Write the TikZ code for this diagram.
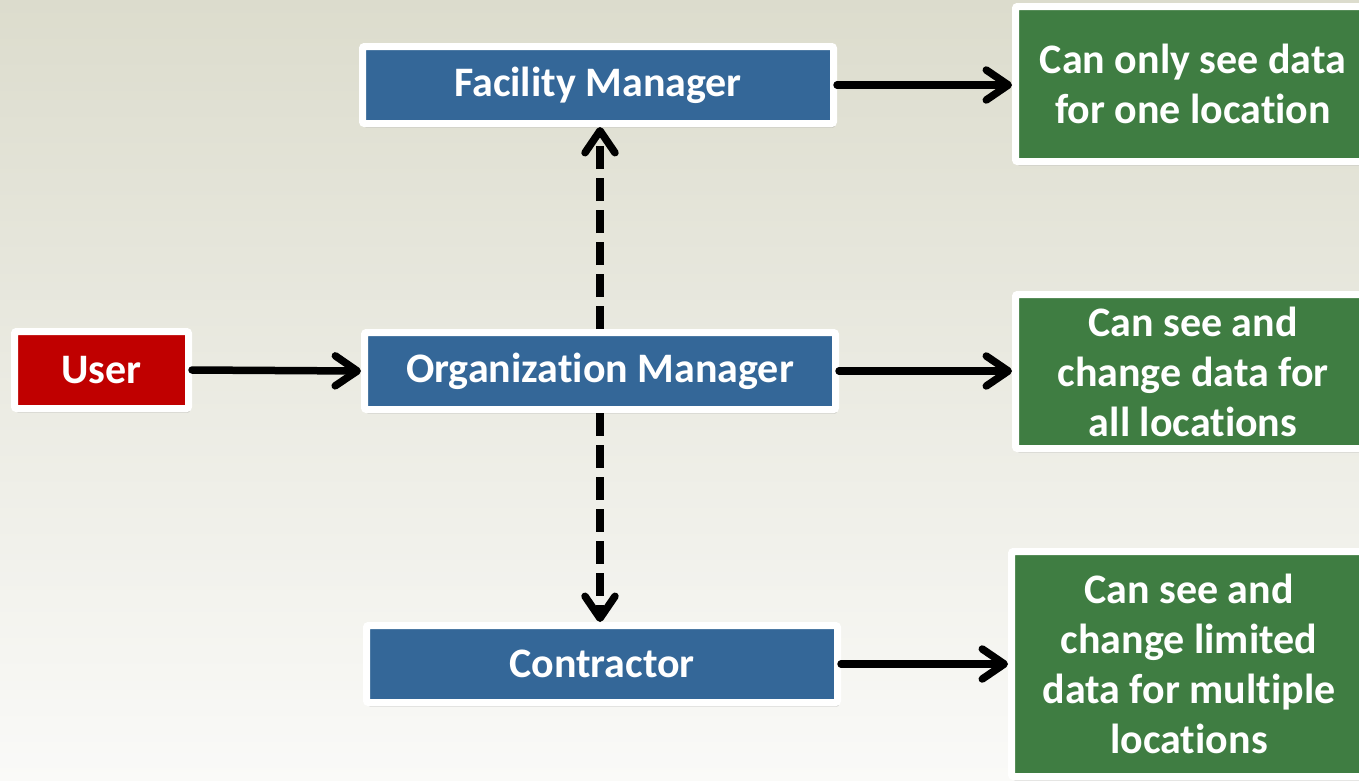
\documentclass[tikz,border=0pt]{standalone}
\usepackage{fontspec}
\setmainfont[Ligatures=NoCommon]{Carlito}
\usetikzlibrary{arrows.meta,shadows}
\definecolor{bgtop}{RGB}{220,220,205}
\definecolor{bgbot}{RGB}{250,250,248}
\definecolor{boxblue}{RGB}{52,103,152}
\definecolor{boxred}{RGB}{192,0,0}
\definecolor{boxgreen}{RGB}{63,125,66}
\tikzset{
  box/.style={draw=white, line width=7pt, rounded corners=2pt, text=white,
    font=\fontsize{42}{50}\selectfont\bfseries, align=center, inner sep=0pt,
    drop shadow={shadow xshift=1.5pt, shadow yshift=-4pt, opacity=0.3}},
  bluebox/.style={box, fill=boxblue, minimum width=471pt, minimum height=77pt},
  redbox/.style={box, fill=boxred, minimum width=174pt, minimum height=77pt},
  greenbox/.style={box, fill=boxgreen},
  conn/.style={draw=black, line width=7.5pt, line cap=round,
    -{Straight Barb[length=22pt,width=30pt,line cap=round,line join=round]}},
  dconn/.style={conn, line cap=butt, dash pattern=on 23pt off 9pt}
}
\begin{document}
\begin{tikzpicture}[x=1pt,y=-1pt]
\useasboundingbox (0,0) rectangle (1359,780);
\clip (0,0) rectangle (1359,780);
\shade[top color=bgtop, bottom color=bgbot] (0,0) rectangle (1359,780);
\node[redbox] (user) at (101.5,370) {User};
\node[bluebox] (fm) at (598,85) {Facility Manager};
\node[bluebox] (om) at (600,371) {Organization Manager};
\node[bluebox] (ct) at (602,664) {Contractor};
\node[greenbox, minimum width=355pt, minimum height=155pt] (g1) at (1193,84) {Can only see data\\for one location};
\node[greenbox, minimum width=355pt, minimum height=154pt] (g2) at (1193,371.5) {Can see and\\change data for\\all locations};
\node[greenbox, minimum width=355pt, minimum height=225pt] (g3) at (1189,664) {Can see and\\change limited\\data for multiple\\locations};
\draw[conn] (user.east) -- (om.west);
\draw[conn] (fm.east) -- (fm.east -| g1.west);
\draw[conn] (om.east) -- (om.east -| g2.west);
\draw[conn] (ct.east) -- (ct.east -| g3.west);
\draw[dconn] (om.north) -- (om.north |- fm.south);
\draw[dconn] (om.south) -- (om.south |- ct.north);
\end{tikzpicture}
\end{document}
